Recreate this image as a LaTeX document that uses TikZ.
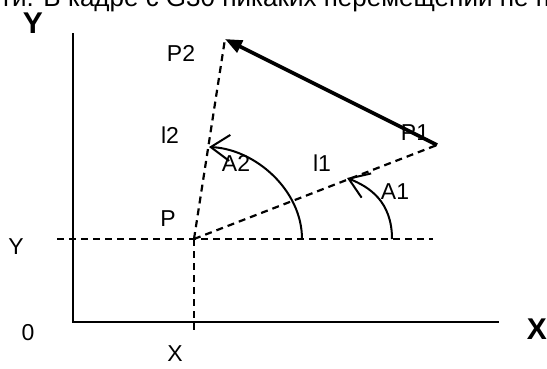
\documentclass[tikz,border=0pt]{standalone}
\usepackage{fontspec}
\setmainfont{Liberation Sans}
\usetikzlibrary{arrows.meta}

\begin{document}
\begin{tikzpicture}[
        x=1pt, y=-1pt,
        axis/.style={line width=2.4pt, black},
        guide/.style={line width=2.2pt, dash pattern=on 7pt off 5pt},
        angarc/.style={line width=2pt,
                       -{Straight Barb[length=19pt, width=26pt]}},
        move/.style={line width=3.6pt, -{Triangle[length=17pt, width=13pt]}},
        lbl/.style={font=\fontsize{23}{27}\selectfont, inner sep=0pt},
        axlbl/.style={font=\fontsize{30}{34}\selectfont\bfseries, inner sep=0pt}
      ]
        \clip (0,0) rectangle (547,368);

        % cut line of text above the figure
        \node[anchor=base west, inner sep=0pt, font=\fontsize{26}{30}\selectfont]
              (cutline) at (0,6) {ти. В кадре с G30 никаких перемещений не п};

        % points
        \coordinate (O)    at (73,322);
        \coordinate (ytop) at (73,33);
        \coordinate (xend) at (499,322);
        \coordinate (P)    at (194,239);
        \coordinate (P1)   at (437,145);
        \coordinate (P2)   at (225,39);
        \coordinate (hl)   at (57,239);
        \coordinate (hr)   at (433,239);
        \coordinate (vb)   at (194,333);

        % axes
        \draw[axis] (ytop) -- (O) -- (xend);

        % dashed guides
        \draw[guide] (hl) -- (hr);
        \draw[guide] (P) -- (vb);
        \draw[guide] (P) -- (P1);
        \draw[guide] (P) -- (P2);

        % movement P1 -> P2
        \draw[move] (P1) -- (P2);

        % angles
        \draw[angarc] (302,239) .. controls (302,190) and (255,149) .. (209,147);
        \draw[angarc] (392,239) .. controls (392,202) and (370,187) .. (347,178);

        % labels
        \node[axlbl] (ylab) at (33,23) {Y};
        \node[axlbl] (xlab) at (537,329) {X};
        \node[lbl] (yval)  at (16,247) {Y};
        \node[lbl] (zero)  at (28,333) {0};
        \node[lbl] (xval)  at (175,354) {X};
        \node[lbl] (lP)    at (168,219) {P};
        \node[lbl] (lP1)   at (415,133) {P1};
        \node[lbl] (lP2)   at (181,53) {P2};
        \node[lbl] (ll1)   at (322,163) {l1};
        \node[lbl] (ll2)   at (170,135) {l2};
        \node[lbl] (lA1)   at (395,192) {A1};
        \node[lbl] (lA2)   at (236,163) {A2};
      \end{tikzpicture}
\end{document}
